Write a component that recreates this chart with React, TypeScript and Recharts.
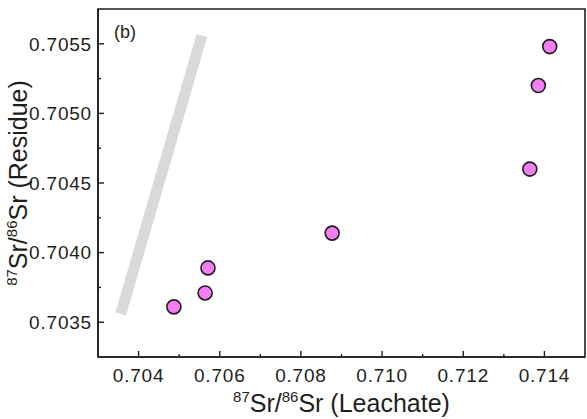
import { ScatterChart, Scatter, XAxis, YAxis, ReferenceLine, ReferenceArea } from "recharts";

// ── data ─────────────────────────────────────────────────────────────
const X_MAJOR = [0.704, 0.706, 0.708, 0.71, 0.712, 0.714];
const X_MINOR = [0.705, 0.707, 0.709, 0.711, 0.713];
const Y_MAJOR = [0.7035, 0.704, 0.7045, 0.705, 0.7055];
const Y_MINOR = [0.70375, 0.70425, 0.70475, 0.70525];

const leachate = [0.70487, 0.70564, 0.70571, 0.70877, 0.71364, 0.71385, 0.71413];
const residue = [0.70361, 0.70371, 0.70389, 0.70414, 0.7046, 0.7052, 0.70548];

// 1:1 line (grey band)
const oneToOne = [0.70356, 0.70556];

const samples = leachate.map((x, i) => ({ x, y: residue[i] }));

const FONT = "'Liberation Sans', Arial, Helvetica, sans-serif";
const INK = "#1e1e1e";

// ── tick renderers ───────────────────────────────────────────────────
function XTick(props: any) {
    const { x, y, payload } = props;
    const major = X_MAJOR.includes(payload.value);
    return (
        <g>
            <line x1={x} x2={x} y1={y} y2={y - (major ? 6 : 3)} stroke={INK} strokeWidth={1.4} />
            {major && (
                <text x={x} y={y + 25} textAnchor="middle" fontSize={19} letterSpacing={0.8} fill={INK} fontFamily={FONT}>
                    {payload.value.toFixed(3)}
                </text>
            )}
        </g>
    );
}

function YTick(props: any) {
    const { x, y, payload } = props;
    const major = Y_MAJOR.includes(payload.value);
    return (
        <g>
            <line x1={x} x2={x + (major ? 6 : 3)} y1={y} y2={y} stroke={INK} strokeWidth={1.4} />
            {major && (
                <text x={x - 6} y={y} dy="0.36em" textAnchor="end" fontSize={19} letterSpacing={0.8} fill={INK} fontFamily={FONT}>
                    {payload.value.toFixed(4)}
                </text>
            )}
        </g>
    );
}

function XTitle(props: any) {
    const vb = props.viewBox || { x: 98, y: 357, width: 487, height: 62 };
    const cx = vb.x + vb.width / 2;
    return (
        <text x={cx} y={vb.y + 55} textAnchor="middle" fontSize={25} fill={INK} fontFamily={FONT}>
            <tspan fontSize={15} dy={-10}>87</tspan>
            <tspan dy={10}>Sr/</tspan>
            <tspan fontSize={15} dy={-10}>86</tspan>
            <tspan dy={10}>Sr (Leachate)</tspan>
        </text>
    );
}

function YTitle(props: any) {
    const vb = props.viewBox || { x: 0, y: 9, width: 98, height: 348 };
    const cy = vb.y + vb.height / 2;
    const bx = 27;
    return (
        <text x={bx} y={cy} transform={`rotate(-90, ${bx}, ${cy})`} textAnchor="middle" fontSize={25} fill={INK} fontFamily={FONT}>
            <tspan fontSize={15} dy={-10}>87</tspan>
            <tspan dy={10}>Sr/</tspan>
            <tspan fontSize={15} dy={-10}>86</tspan>
            <tspan dy={10}>Sr (Residue)</tspan>
        </text>
    );
}

function Dot(props: any) {
    return <circle cx={props.cx} cy={props.cy} r={7} fill="#f27ef2" stroke={INK} strokeWidth={1.6} />;
}

export default function App() {
    return (
        <div style={{ position: "absolute", left: 0, top: 0, background: "#fff" }}>
            <ScatterChart width={587} height={419} margin={{ top: 9, right: 2, bottom: 0, left: 0 }}>
                <XAxis
                    type="number"
                    dataKey="x"
                    domain={[0.703, 0.715]}
                    ticks={[...X_MAJOR, ...X_MINOR]}
                    interval={0}
                    tick={<XTick />}
                    tickLine={false}
                    tickSize={0}
                    tickMargin={0}
                    height={62}
                    axisLine={{ stroke: INK, strokeWidth: 1.6 }}
                    label={XTitle}
                    allowDataOverflow
                />
                <YAxis
                    type="number"
                    dataKey="y"
                    domain={[0.70325, 0.70575]}
                    ticks={[...Y_MAJOR, ...Y_MINOR]}
                    interval={0}
                    tick={<YTick />}
                    tickLine={false}
                    tickSize={0}
                    tickMargin={0}
                    width={98}
                    axisLine={{ stroke: INK, strokeWidth: 1.6 }}
                    label={YTitle}
                    allowDataOverflow
                />
                <ReferenceArea
                    x1={0.703}
                    x2={0.715}
                    y1={0.70325}
                    y2={0.70575}
                    fill="none"
                    stroke={INK}
                    strokeWidth={1.6}
                    ifOverflow="visible"
                    label={{ value: "(b)", position: "insideTopLeft", offset: 16, fontSize: 18, fill: INK, fontFamily: FONT }}
                />
                <ReferenceLine
                    segment={[
                        { x: oneToOne[0], y: oneToOne[0] },
                        { x: oneToOne[1], y: oneToOne[1] },
                    ]}
                    stroke="#d9d9d9"
                    strokeWidth={11}
                />
                <Scatter data={samples} shape={<Dot />} isAnimationActive={false} />
            </ScatterChart>
        </div>
    );
}
